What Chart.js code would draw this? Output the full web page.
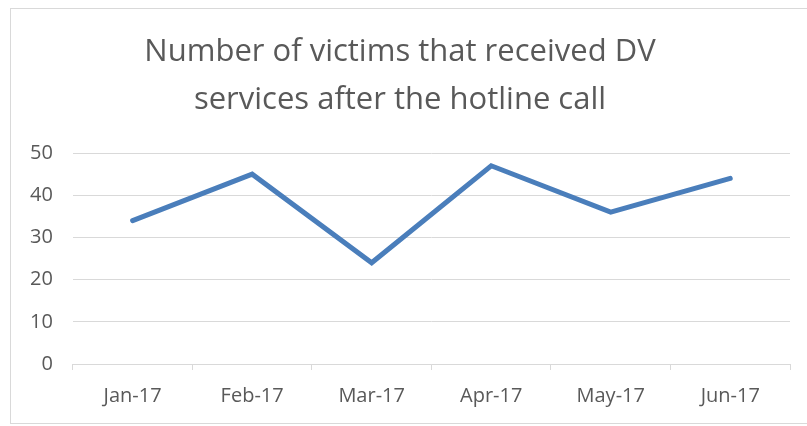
<!DOCTYPE html>
<html>
<head>
<meta charset="utf-8">
<script src="https://cdn.jsdelivr.net/npm/chart.js@4"></script>
<style>
  html, body { margin: 0; padding: 0; background: #fff; }
  #frame {
    position: absolute; left: 10px; top: 8px; width: 810px; height: 416px;
    border: 1px solid #d9d9d9; box-sizing: border-box;
  }
  #wrap { position: absolute; left: 0; top: 0; width: 807px; height: 426px; }
</style>
</head>
<body>
<div id="frame"></div>
<div id="wrap"><canvas id="chart" width="807" height="426"></canvas></div>
<script>
const months = ['Jan-17', 'Feb-17', 'Mar-17', 'Apr-17', 'May-17', 'Jun-17'];
const victims = [34, 45, 24, 47, 36, 44];
const yTicks = [0, 10, 20, 30, 40, 50];
const titleLines = ['Number of victims that received DV', 'services after the hotline call'];

const grey = '#595959';
const font = "'Open Sans', sans-serif";

new Chart(document.getElementById('chart').getContext('2d'), {
  type: 'line',
  data: {
    labels: months,
    datasets: [{
      data: victims,
      borderColor: '#4A7EBB',
      borderWidth: 5,
      pointRadius: 0,
      tension: 0,
      borderCapStyle: 'round',
      borderJoinStyle: 'miter'
    }]
  },
  options: {
    responsive: false,
    animation: false,
    layout: { padding: { left: 10, right: 17, top: 28, bottom: 4 } },
    plugins: {
      legend: { display: false },
      tooltip: { enabled: false },
      title: {
        display: true,
        text: titleLines,
        color: grey,
        font: { family: font, size: 31, weight: 'normal', lineHeight: 1.55 },
        padding: { top: 0, bottom: 29 }
      }
    },
    scales: {
      x: {
        offset: true,
        grid: { offset: true, drawOnChartArea: false, drawTicks: true, tickLength: 6, color: '#d9d9d9' },
        border: { color: '#d9d9d9' },
        ticks: { color: grey, font: { family: font, size: 20 }, padding: 14, maxRotation: 0 }
      },
      y: {
        min: 0,
        max: 50,
        afterBuildTicks: axis => { axis.ticks = yTicks.map(v => ({ value: v })); },
        grid: { color: '#d9d9d9', drawTicks: false },
        border: { display: false },
        ticks: { color: grey, font: { family: font, size: 20 }, padding: 20 }
      }
    }
  }
});
</script>
</body>
</html>
